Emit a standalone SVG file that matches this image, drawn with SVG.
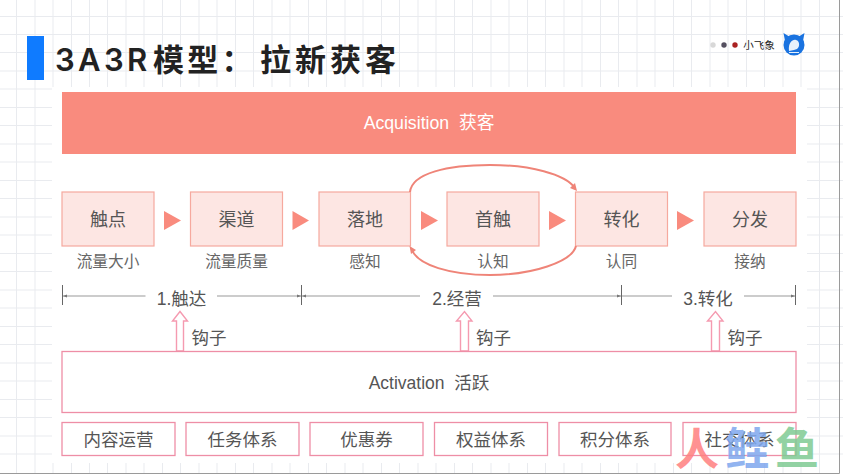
<svg xmlns="http://www.w3.org/2000/svg" width="843" height="474" viewBox="0 0 843 474">
<style>
text{font-family:"Liberation Sans","Noto Sans CJK SC",sans-serif;text-anchor:middle}
.grid{stroke:#e9ebef;stroke-width:1;fill:none}
.node{fill:#fde6e3;stroke:#f6a99e;stroke-width:1.2}
.pink{fill:#fff;stroke:#ee8ea6;stroke-width:1.3}
.t{font-size:18px;fill:#555}
.s{font-size:15.700px;fill:#666}
.m{font-size:17.500px;fill:#555}
.b{font-size:17.500px;fill:#555}
.tri{fill:#f98b7e}
.dim{stroke:#999;stroke-width:1;fill:none}
.tick{stroke:#666;stroke-width:1;fill:none}
.loop{stroke:#ef8478;stroke-width:2;fill:none}
.hook{fill:#fff;stroke:#f59ab0;stroke-width:1.4}
.wm{font-size:44px;font-weight:700;opacity:.85}
</style>
<rect width="843" height="474" fill="#fff"/>
<path class="grid" d="M16.5 0V474M35 0V474M53 0V474M71.500 0V474M89.500 0V474M107.500 0V474M126 0V474M144 0V474M162.500 0V474M180.500 0V474M199 0V474M217 0V474M235.500 0V474M253.500 0V474M272 0V474M290 0V474M308.500 0V474M326.500 0V474M345 0V474M363 0V474M381.500 0V474M399.500 0V474M418 0V474M436 0V474M454.500 0V474M472.500 0V474M491 0V474M509 0V474M527.500 0V474M545.500 0V474M564 0V474M582 0V474M600.500 0V474M618.500 0V474M637 0V474M655 0V474M673.500 0V474M691.500 0V474M710 0V474M728 0V474M746.500 0V474M764.500 0V474M783 0V474M801 0V474M819.500 0V474"/>
<path class="grid" d="M0 16.500H843M0 34.500H843M0 52.500H843M0 71H843M0 89H843M0 107.500H843M0 125.500H843M0 144H843M0 162H843M0 180.500H843M0 198.500H843M0 217H843M0 235H843M0 253.500H843M0 271.500H843M0 290H843M0 308H843M0 326.500H843M0 344.500H843M0 363H843M0 381H843M0 399.500H843M0 417.500H843M0 436H843M0 454H843"/>
<rect x="52" y="87" width="755" height="376" fill="#fff"/>
<path d="M0 473.500H839.500V0" fill="none" stroke="#9a9a9a" stroke-width="1"/>
<g id="title">
<rect x="27" y="36" width="17" height="44" fill="#0f7bff"/>
<text x="55" y="71" font-size="31" fill="#222" letter-spacing="3.300" style="text-anchor:start"><tspan font-family="Inter" font-weight="600">3A3R</tspan><tspan x="153" font-weight="700" style="font-family:'Noto Sans CJK SC',sans-serif">模型：</tspan><tspan x="260" font-weight="700" style="font-family:'Noto Sans CJK SC',sans-serif" letter-spacing="4">拉新获客</tspan></text>
</g>
<g id="logo">
<circle cx="713" cy="45" r="2.700" fill="#d8d8d8"/>
<circle cx="724" cy="45" r="2.700" fill="#555060"/>
<circle cx="735" cy="45" r="2.700" fill="#aa2222"/>
<text x="759" y="49" font-size="10.500" fill="#222">小飞象</text>
<circle cx="794" cy="45" r="10.500" fill="#1a73e0"/>
<path d="M783.500 33L790 37L785 41ZM804.500 33L798 37L803 41Z" fill="#1a73e0"/>
<path d="M789 51C788 42 793 39 796 40C800 41 800 47 797 49L794 50Z" fill="#e8f1fb"/>
<path d="M789 52.500H799" stroke="#e8f1fb" stroke-width="1" fill="none"/>
</g>
<g id="acquisition">
<rect x="62" y="92" width="734" height="62" fill="#f98b7e"/>
<text x="429" y="129" font-size="17.700" fill="#fff">Acquisition&#160;&#160;获客</text>
</g>
<g id="n1"><rect class="node" x="62" y="192" width="92" height="54"/><text class="t" x="108" y="226">触点</text></g>
<g id="n2"><rect class="node" x="190.500" y="192" width="92" height="54"/><text class="t" x="236.500" y="226">渠道</text></g>
<g id="n3"><rect class="node" x="319" y="192" width="91.500" height="54"/><text class="t" x="365" y="226">落地</text></g>
<g id="n4"><rect class="node" x="447" y="192" width="92" height="54"/><text class="t" x="493" y="226">首触</text></g>
<g id="n5"><rect class="node" x="575.500" y="192" width="92" height="54"/><text class="t" x="621.500" y="226">转化</text></g>
<g id="n6"><rect class="node" x="704" y="192" width="92" height="54"/><text class="t" x="750" y="226">分发</text></g>
<g id="sublabels">
<text class="s" x="108" y="267">流量大小</text>
<text class="s" x="236.500" y="267">流量质量</text>
<text class="s" x="365" y="267">感知</text>
<text class="s" x="493" y="267">认知</text>
<text class="s" x="621.500" y="267">认同</text>
<text class="s" x="750" y="267">接纳</text>
</g>
<g id="connectors">
<path class="tri" d="M164 211L181 220.500L164 230Z"/>
<path class="tri" d="M292.500 211L309 220.500L292.500 230Z"/>
<path class="tri" d="M421 211L438 220.500L421 230Z"/>
<path class="tri" d="M549 211L566 220.500L549 230Z"/>
<path class="tri" d="M677 211L694 220.500L677 230Z"/>
<path class="loop" d="M410 192C412 173 448 165 490 165C530 165 565 174 575 188"/>
<path d="M577 191L570 188L575 183Z" fill="#ef8478"/>
<path class="loop" d="M576 246C572 262 532 275 490 275C450 275 418 265 412 250"/>
<path d="M409.500 246L416 250L411 254Z" fill="#ef8478"/>
<path class="dim" d="M62 296H145.500M217 296H301M302 296H420M493 296H621M622 296H672M744 296H796"/>
<path class="tick" d="M62.500 285V305M301.500 285V305M621.500 285V305M795.500 285V305"/>
<path d="M63 296L67 294.500V297.500ZM301 296L297 294.500V297.500ZM302 296L306 294.500V297.500ZM621 296L617 294.500V297.500ZM795 296L791 294.500V297.500Z" fill="#777"/>
<path class="hook" d="M176.500 351V321H172.500L180 311.500L187.500 321H183.500V351Z"/>
<path class="hook" d="M460.500 351V321H456.500L464.500 311.500L472 321H468.500V351Z"/>
<path class="hook" d="M711.500 351V321H707.500L715.500 311.500L723 321H719.500V351Z"/>
</g>
<g id="dim-labels">
<text class="m" x="181.500" y="305">1.触达</text>
<text class="m" x="457" y="305">2.经营</text>
<text class="m" x="708" y="305">3.转化</text>
<text class="m" x="209" y="344">钩子</text>
<text class="m" x="493.500" y="344">钩子</text>
<text class="m" x="745" y="344">钩子</text>
</g>
<g id="activation">
<rect class="pink" x="62" y="351.500" width="734" height="61"/>
<text class="m" x="429" y="389">Activation&#160;&#160;活跃</text>
</g>
<g id="b1"><rect class="pink" x="62" y="422.500" width="113" height="33"/><text class="b" x="118.500" y="446">内容运营</text></g>
<g id="b2"><rect class="pink" x="186" y="422.500" width="113" height="33"/><text class="b" x="242.500" y="446">任务体系</text></g>
<g id="b3"><rect class="pink" x="310" y="422.500" width="113" height="33"/><text class="b" x="366.500" y="446">优惠券</text></g>
<g id="b4"><rect class="pink" x="434.500" y="422.500" width="113" height="33"/><text class="b" x="491" y="446">权益体系</text></g>
<g id="b5"><rect class="pink" x="559" y="422.500" width="112" height="33"/><text class="b" x="615" y="446">积分体系</text></g>
<g id="b6"><rect class="pink" x="683" y="422.500" width="113" height="33"/><text class="b" x="739.500" y="446">社交体系</text></g>
<g id="watermark">
<text class="wm" x="697" y="465" fill="#ff8080">人</text>
<text class="wm" x="747" y="465" fill="#7fa8ee">鲑</text>
<text class="wm" x="797" y="465" fill="#7fcb94">鱼</text>
</g>
</svg>
